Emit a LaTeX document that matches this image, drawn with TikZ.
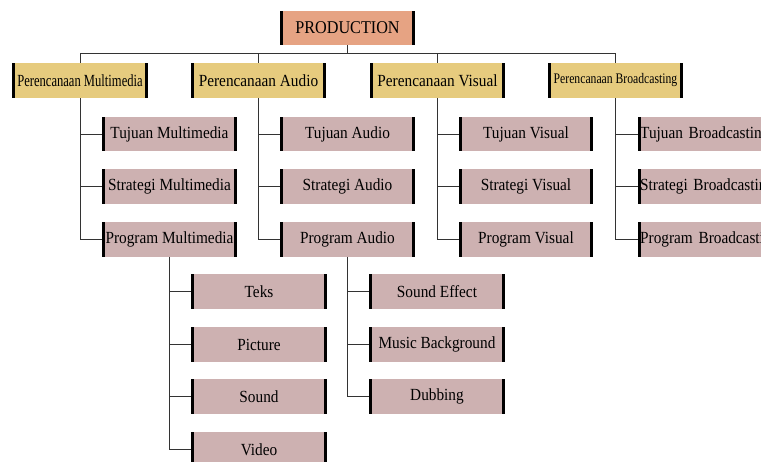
\documentclass[tikz,border=0pt]{standalone}
\usepackage{fontspec}
\setmainfont{Liberation Serif}
\newfontfamily\fa{Liberation Serif}[FakeStretch=0.9]
\newfontfamily\fb{Liberation Serif}[FakeStretch=0.74]
\newfontfamily\fc{Liberation Serif}[FakeStretch=0.8]
\definecolor{prodc}{HTML}{E6A383}
\definecolor{yelc}{HTML}{E6CB7E}
\definecolor{pinkc}{HTML}{CDB1B1}
\definecolor{linec}{HTML}{333333}
\tikzset{
  barbox/.style={inner sep=0pt, minimum height=34.5pt, minimum width=135pt,
    font=\fa\fontsize{17}{20}\selectfont,
    path picture={
      \fill[black] (path picture bounding box.north west) rectangle ([xshift=3pt]path picture bounding box.south west);
      \fill[black] (path picture bounding box.north east) rectangle ([xshift=-3pt]path picture bounding box.south east);
    }},
  prodbox/.style={barbox, fill=prodc, minimum height=34pt, font=\fa\fontsize{18}{20}\selectfont},
  lvlone/.style={barbox, fill=yelc, minimum height=35pt},
  lvltwo/.style={barbox, fill=pinkc},
  leftbox/.style={lvltwo, anchor=west, text width=156pt, align=left, inner xsep=2pt},
  conn/.style={draw=linec, line width=1pt}
}
\begin{document}
\begin{tikzpicture}[x=1pt,y=-1pt]
\useasboundingbox (0,0) rectangle (761,461);
\clip (0,0) rectangle (761,461);
% top
\node[prodbox] (prod) at (347.5,28) {PRODUCTION};
% level 1
\node[lvlone, minimum width=136pt, font=\fb\fontsize{17}{18}\selectfont] (pm) at (80,80.5) {Perencanaan Multimedia};
\node[lvlone] (pa) at (258.5,80.5) {Perencanaan Audio};
\node[lvlone] (pv) at (437.5,80.5) {Perencanaan Visual};
\node[lvlone, font=\fc\fontsize{14.6}{18}\selectfont] (pb) at (615.5,80.5) {Perencanaan Broadcasting};
% level 2
\node[lvltwo] (m1) at (169.5,134) {Tujuan Multimedia};
\node[lvltwo] (m2) at (169.5,186.5) {Strategi Multimedia};
\node[lvltwo] (m3) at (169.5,239.5) {Program Multimedia};
\node[lvltwo] (a1) at (347.5,134) {Tujuan Audio};
\node[lvltwo] (a2) at (347.5,186.5) {Strategi Audio};
\node[lvltwo] (a3) at (347.5,239.5) {Program Audio};
\node[lvltwo, minimum width=134pt] (v1) at (526,134) {Tujuan Visual};
\node[lvltwo, minimum width=134pt] (v2) at (526,186.5) {Strategi Visual};
\node[lvltwo, minimum width=134pt] (v3) at (526,239.5) {Program Visual};
\node[leftbox] (b1) at (638,134) {Tujuan Broadcasting};
\node[leftbox] (b2) at (638,186.5) {Strategi Broadcasting};
\node[leftbox] (b3) at (638,239.5) {Program Broadcasting};
% level 3
\node[lvltwo, minimum width=136pt] (t1) at (259,291.5) {Teks};
\node[lvltwo, minimum width=136pt] (t2) at (259,344.5) {Picture};
\node[lvltwo, minimum width=136pt] (t3) at (259,396.5) {Sound};
\node[lvltwo, minimum width=136pt] (t4) at (259,449.5) {Video};
\node[lvltwo, minimum width=136pt] (s1) at (437,291.5) {Sound Effect};
\node[lvltwo, minimum width=136pt] (s2) at (437,344.5) {Music Background};
\node[lvltwo, minimum width=136pt] (s3) at (437,396.5) {Dubbing};
% bus
\coordinate (bus) at (0,53);
\draw[conn] (prod.south) -- (prod.south |- bus);
\draw[conn] (pm.north) -- (pm.north |- bus) -- (pb.north |- bus) -- (pb.north);
\draw[conn] (pa.north) -- (pa.north |- bus);
\draw[conn] (pv.north) -- (pv.north |- bus);
% level 2 connectors
\draw[conn] (pm.south) -- (pm.south |- m3.west) -- (m3.west);
\draw[conn] (pm.south |- m1.west) -- (m1.west);
\draw[conn] (pm.south |- m2.west) -- (m2.west);
\draw[conn] (pa.south) -- (pa.south |- a3.west) -- (a3.west);
\draw[conn] (pa.south |- a1.west) -- (a1.west);
\draw[conn] (pa.south |- a2.west) -- (a2.west);
\draw[conn] (pv.south) -- (pv.south |- v3.west) -- (v3.west);
\draw[conn] (pv.south |- v1.west) -- (v1.west);
\draw[conn] (pv.south |- v2.west) -- (v2.west);
\draw[conn] (pb.south) -- (pb.south |- b3.west) -- (b3.west);
\draw[conn] (pb.south |- b1.west) -- (b1.west);
\draw[conn] (pb.south |- b2.west) -- (b2.west);
% level 3 connectors
\draw[conn] (m3.south) -- (m3.south |- t4.west) -- (t4.west);
\draw[conn] (m3.south |- t1.west) -- (t1.west);
\draw[conn] (m3.south |- t2.west) -- (t2.west);
\draw[conn] (m3.south |- t3.west) -- (t3.west);
\draw[conn] (a3.south) -- (a3.south |- s3.west) -- (s3.west);
\draw[conn] (a3.south |- s1.west) -- (s1.west);
\draw[conn] (a3.south |- s2.west) -- (s2.west);
\end{tikzpicture}
\end{document}
